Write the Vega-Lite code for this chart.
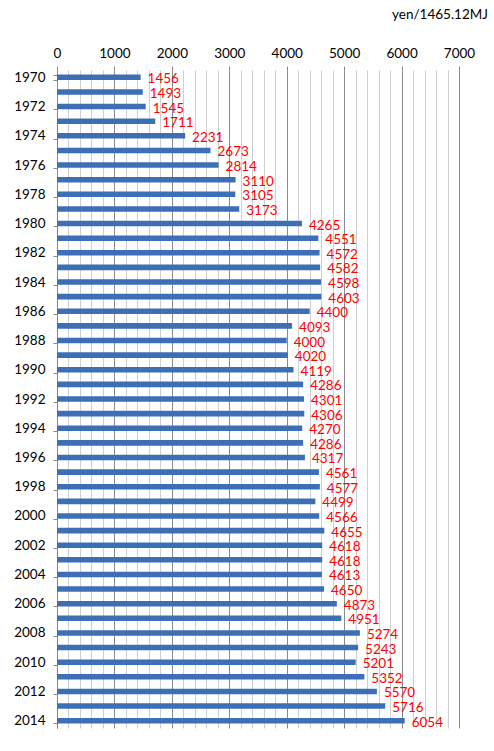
{
  "$schema": "https://vega.github.io/schema/vega-lite/v6.json",
  "autosize": {"type": "none"},
  "padding": {"left": 57, "top": 70, "right": 35, "bottom": 23},
  "width": 402,
  "height": 658,
  "background": "white",
  "title": {
    "text": "yen/1465.12MJ",
    "anchor": "end",
    "frame": "group",
    "font": "Lato",
    "fontSize": 13.5,
    "fontWeight": "normal",
    "color": "#000000",
    "dx": 29,
    "offset": 25
  },
  "config": {
    "view": {"stroke": null},
    "font": "Lato"
  },
  "data": {
    "values": [
      {"year": 1970, "value": 1456},
      {"year": 1971, "value": 1493},
      {"year": 1972, "value": 1545},
      {"year": 1973, "value": 1711},
      {"year": 1974, "value": 2231},
      {"year": 1975, "value": 2673},
      {"year": 1976, "value": 2814},
      {"year": 1977, "value": 3110},
      {"year": 1978, "value": 3105},
      {"year": 1979, "value": 3173},
      {"year": 1980, "value": 4265},
      {"year": 1981, "value": 4551},
      {"year": 1982, "value": 4572},
      {"year": 1983, "value": 4582},
      {"year": 1984, "value": 4598},
      {"year": 1985, "value": 4603},
      {"year": 1986, "value": 4400},
      {"year": 1987, "value": 4093},
      {"year": 1988, "value": 4000},
      {"year": 1989, "value": 4020},
      {"year": 1990, "value": 4119},
      {"year": 1991, "value": 4286},
      {"year": 1992, "value": 4301},
      {"year": 1993, "value": 4306},
      {"year": 1994, "value": 4270},
      {"year": 1995, "value": 4286},
      {"year": 1996, "value": 4317},
      {"year": 1997, "value": 4561},
      {"year": 1998, "value": 4577},
      {"year": 1999, "value": 4499},
      {"year": 2000, "value": 4566},
      {"year": 2001, "value": 4655},
      {"year": 2002, "value": 4618},
      {"year": 2003, "value": 4618},
      {"year": 2004, "value": 4613},
      {"year": 2005, "value": 4650},
      {"year": 2006, "value": 4873},
      {"year": 2007, "value": 4951},
      {"year": 2008, "value": 5274},
      {"year": 2009, "value": 5243},
      {"year": 2010, "value": 5201},
      {"year": 2011, "value": 5352},
      {"year": 2012, "value": 5570},
      {"year": 2013, "value": 5716},
      {"year": 2014, "value": 6054}
    ]
  },
  "encoding": {
    "y": {
      "field": "year",
      "type": "ordinal",
      "scale": {"paddingInner": 0.62, "paddingOuter": 0.31},
      "axis": {
        "title": null,
        "values": [1970,1972,1974,1976,1978,1980,1982,1984,1986,1988,1990,1992,1994,1996,1998,2000,2002,2004,2006,2008,2010,2012,2014],
        "tickBand": "extent",
        "labelFont": "Lato",
        "labelFontSize": 13.5,
        "labelColor": "#000000",
        "labelPadding": 8,
        "tickSize": 4,
        "tickColor": "#868686",
        "domainColor": "#868686",
        "grid": false
      }
    }
  },
  "layer": [
    {
      "mark": {"type": "bar", "color": "#3d6fb6"},
      "encoding": {
        "x": {
          "field": "value",
          "type": "quantitative",
          "scale": {"domain": [0, 7000], "nice": false},
          "axis": {
            "orient": "bottom",
            "title": null,
            "values": [200,400,600,800,1200,1400,1600,1800,2200,2400,2600,2800,3200,3400,3600,3800,4200,4400,4600,4800,5200,5400,5600,5800,6200,6400,6600,6800],
            "labels": false,
            "domain": false,
            "ticks": false,
            "grid": true,
            "gridColor": "#cfcfcf",
            "gridWidth": 1
          }
        }
      }
    },
    {
      "mark": {
        "type": "text",
        "align": "left",
        "baseline": "middle",
        "dx": 7,
        "dy": 2,
        "font": "Lato",
        "fontSize": 13.5,
        "color": "#ff0000"
      },
      "encoding": {
        "x": {
          "field": "value",
          "type": "quantitative",
          "scale": {"domain": [0, 7000], "nice": false},
          "axis": {
            "orient": "top",
            "title": null,
            "values": [0,1000,2000,3000,4000,5000,6000,7000],
            "format": "d",
            "labelFlush": false,
            "labelFont": "Lato",
            "labelFontSize": 13.5,
            "labelColor": "#000000",
            "labelPadding": 6,
            "domain": false,
            "ticks": true,
            "tickSize": 4,
            "tickColor": "#868686",
            "grid": true,
            "gridColor": "#8a8a8a",
            "gridWidth": 1
          }
        },
        "text": {"field": "value", "type": "quantitative", "format": "d"}
      }
    }
  ],
  "resolve": {"axis": {"x": "independent"}}
}
